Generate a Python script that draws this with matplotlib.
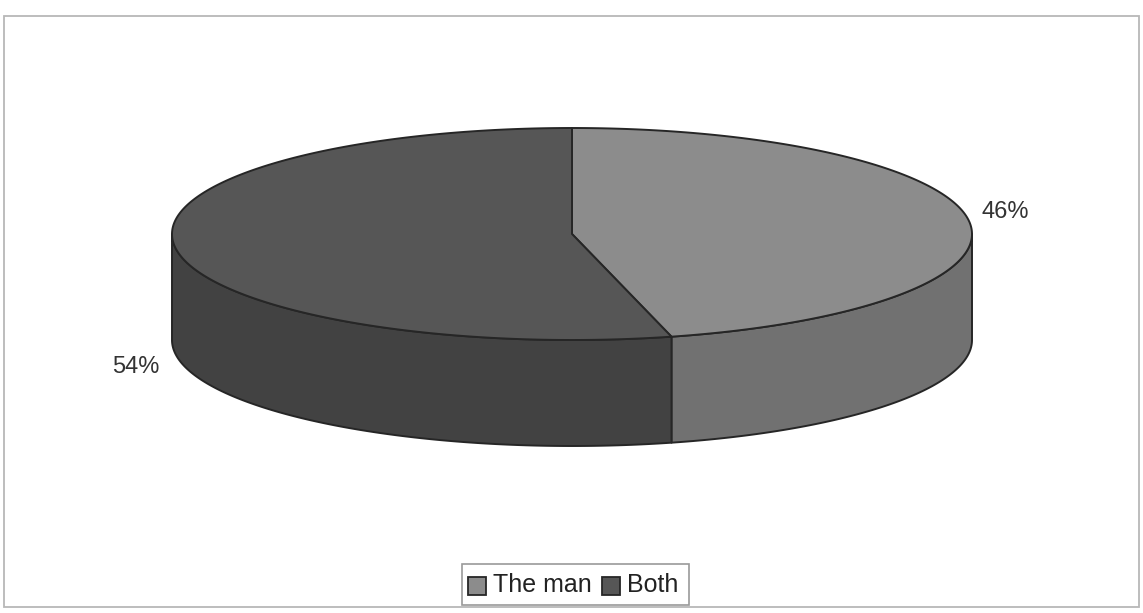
import numpy as np
import matplotlib.pyplot as plt
from matplotlib.patches import Polygon, Rectangle

labels = ["The man", "Both"]
shares = [46, 54]
pct_text = ["46%", "54%"]

TOP_COLORS = ["#8c8c8c", "#565656"]
SIDE_COLORS = ["#717171", "#424242"]
EDGE = "#262626"

# ellipse geometry in pixel space
CX, CY = 572, 234
A, B = 400, 106
DEPTH = 106

W, H = 1143, 613

fig = plt.figure(figsize=(W / 100, H / 100), dpi=100)
ax = fig.add_axes([0, 0, 1, 1])
ax.set_xlim(0, W)
ax.set_ylim(H, 0)
ax.axis("off")

# outer chart frame
ax.add_patch(Rectangle((4, 16), 1135, 591, fill=False, ec="#b8b8b8", lw=1.3))


def pt(theta):
    return CX + A * np.cos(theta), CY - B * np.sin(theta)


# slice angles, clockwise from 12 o'clock
fracs = np.array(shares, dtype=float) / sum(shares)
starts = np.pi / 2 - 2 * np.pi * np.concatenate([[0], np.cumsum(fracs)[:-1]])
ends = starts - 2 * np.pi * fracs

# side walls: only the front half (sin < 0) is visible
for i in range(len(shares)):
    th = np.linspace(starts[i], ends[i], 400)
    th = (th + np.pi) % (2 * np.pi) - np.pi
    vis = th[np.sin(th) <= 0]
    if len(vis) < 2:
        continue
    vis = np.sort(vis)[::-1]
    xs, ys = pt(vis)
    top = np.column_stack([xs, ys])
    bot = np.column_stack([xs, ys + DEPTH])[::-1]
    ax.add_patch(Polygon(np.vstack([top, bot]), closed=True,
                         fc=SIDE_COLORS[i], ec=EDGE, lw=1.4, joinstyle="round"))

# top faces
for i in range(len(shares)):
    th = np.linspace(starts[i], ends[i], 400)
    xs, ys = pt(th)
    verts = np.vstack([[CX, CY], np.column_stack([xs, ys])])
    ax.add_patch(Polygon(verts, closed=True, fc=TOP_COLORS[i], ec=EDGE,
                         lw=1.4, joinstyle="round"))

# percentage labels
ax.text(1005, 212, pct_text[0], fontsize=17, color="#333333",
        family="Liberation Sans", ha="center", va="center")
ax.text(136, 367, pct_text[1], fontsize=17, color="#333333",
        family="Liberation Sans", ha="center", va="center")

# legend
ax.add_patch(Rectangle((462, 564), 227, 41, fill=False, ec="#9a9a9a", lw=1.2))
lx = 468
for i, name in enumerate(labels):
    ax.add_patch(Rectangle((lx, 577), 18, 18, fc=TOP_COLORS[i], ec=EDGE, lw=1.3))
    t = ax.text(lx + 25, 585, name, fontsize=18, color="#222222",
                family="Liberation Sans", ha="left", va="center")
    fig.canvas.draw()
    bb = t.get_window_extent()
    lx = bb.x1 + 10

fig.savefig("out.png", dpi=100)
